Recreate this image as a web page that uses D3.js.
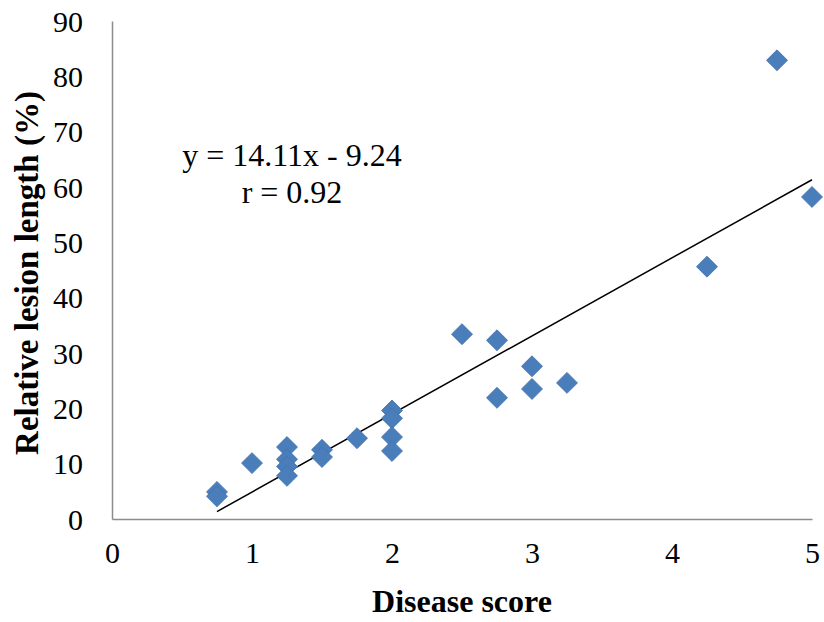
<!DOCTYPE html>
<html>
<head>
<meta charset="utf-8">
<script src="https://cdn.jsdelivr.net/npm/d3@7"></script>
<style>
	body { margin: 0; background: #fff; }
	svg text { font-family: "Liberation Serif", "Times New Roman", serif !important; }
</style>
</head>
<body>
<div id="chart"></div>
<script>
// data
var disease_score = [0.75, 0.75, 1, 1.25, 1.25, 1.25, 1.25, 1.5, 1.5, 1.75, 2, 2, 2, 2, 2.5, 2.75, 2.75, 3, 3, 3.25, 4.25, 4.75, 5];
var lesion_length = [4.9, 4.1, 10.1, 13.0, 10.8, 9.5, 7.8, 12.5, 11.2, 14.6, 19.6, 18.2, 14.8, 12.3, 33.4, 32.3, 21.9, 27.6, 23.5, 24.6, 45.6, 82.9, 58.2];
var x_ticks = [0, 1, 2, 3, 4, 5];
var y_ticks = [0, 10, 20, 30, 40, 50, 60, 70, 80, 90];
var fit_slope = 14.11;
var fit_intercept = -9.24;
var fit_range = [0.75, 5];
var equation_lines = ["y = 14.11x - 9.24", "r = 0.92"];

var width = 824, height = 622;
var margin = {left: 112, right: 12, top: 21, bottom: 103};
var serif = "'Liberation Serif', 'Times New Roman', serif";

var svg = d3.select("#chart").append("svg")
	.attr("width", width)
	.attr("height", height);

var x = d3.scaleLinear().domain([0, 5]).range([margin.left, width - margin.right]);
var y = d3.scaleLinear().domain([0, 90]).range([height - margin.bottom, margin.top]);

//axes without tick marks, just grey spines and labels
var xAxis = svg.append("g")
	.attr("transform", "translate(0," + y(0) + ")")
	.call(d3.axisBottom(x).tickValues(x_ticks).tickSize(0).tickPadding(23).tickFormat(d3.format("d")));

var yAxis = svg.append("g")
	.attr("transform", "translate(" + x(0) + ",0)")
	.call(d3.axisLeft(y).tickValues(y_ticks).tickSize(0).tickPadding(29).tickFormat(d3.format("d")));

svg.selectAll("g").attr("font-family", serif);
svg.selectAll(".domain").attr("stroke", "#8c8c8c").attr("stroke-width", 1.5);
svg.selectAll(".tick text")
	.style("font-family", serif)
	.attr("font-size", 30)
	.attr("fill", "#000");
yAxis.selectAll(".tick text").attr("dy", "0.34em");

//trend line
var line = d3.line()
	.x(function(d){ return x(d); })
	.y(function(d){ return y(fit_slope * d + fit_intercept); });

svg.append("path")
	.datum(fit_range)
	.attr("d", line)
	.attr("fill", "none")
	.attr("stroke", "#000")
	.attr("stroke-width", 1.5);

//diamond markers
var points = disease_score.map(function(d, i){ return {x: d, y: lesion_length[i]}; });
var diamond = d3.symbol().type(d3.symbolSquare).size(220);

svg.append("g")
	.selectAll("path")
	.data(points)
	.enter()
		.append("path")
			.attr("d", diamond)
			.attr("transform", function(d){ return "translate(" + x(d.x) + "," + y(d.y) + ") rotate(45)"; })
			.attr("fill", "#4a7ebb")
			.attr("stroke", "#4573ad")
			.attr("stroke-width", 0.8);

//equation text
svg.append("g")
	.selectAll("text")
	.data(equation_lines)
	.enter()
		.append("text")
			.attr("x", 292)
			.attr("y", function(d, i){ return 166 + i * 37; })
			.attr("text-anchor", "middle")
			.style("font-family", serif)
			.attr("font-size", 32)
			.text(function(d){ return d; });

//axis titles
svg.append("text")
	.attr("x", x(2.5))
	.attr("y", 612)
	.attr("text-anchor", "middle")
	.style("font-family", serif)
	.attr("font-size", 32)
	.attr("font-weight", "bold")
	.text("Disease score");

svg.append("text")
	.attr("transform", "translate(38," + 273 + ") rotate(-90)")
	.attr("text-anchor", "middle")
	.style("font-family", serif)
	.attr("font-size", 33)
	.attr("font-weight", "bold")
	.text("Relative lesion length (%)");
</script>
</body>
</html>
